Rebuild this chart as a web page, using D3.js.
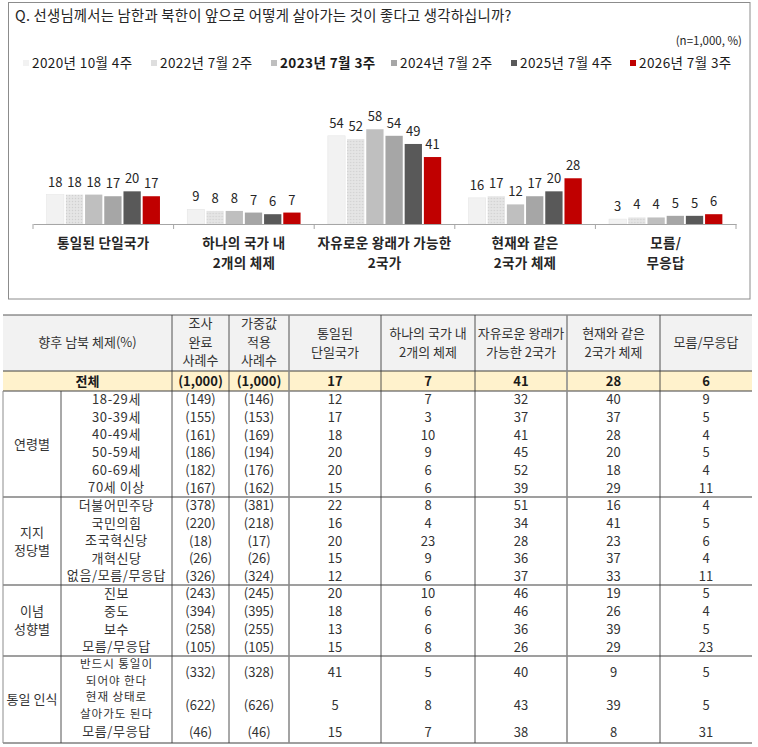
<!DOCTYPE html>
<html><head><meta charset="utf-8">
<script src="https://cdn.jsdelivr.net/npm/d3@7"></script>
<style>
html,body{margin:0;padding:0;background:#fff;}
svg text{font-family:"Noto Sans CJK KR","Noto Sans",sans-serif;}
</style></head>
<body>
<svg id="c" width="758" height="747"></svg>
<script>
// ---------- chart data ----------
const categories = [["통일된 단일국가"],["하나의 국가 내","2개의 체제"],["자유로운 왕래가 가능한","2국가"],["현재와 같은","2국가 체제"],["모름/","무응답"]];
const seriesNames = ["2020년 10월 4주","2022년 7월 2주","2023년 7월 3주","2024년 7월 2주","2025년 7월 4주","2026년 7월 3주"];
const v2020 = [18, 9, 54, 16, 3];
const v2022 = [18, 8, 52, 17, 4];
const v2023 = [18, 8, 58, 12, 4];
const v2024 = [17, 7, 54, 17, 5];
const v2025 = [20, 6, 49, 20, 5];
const v2026 = [17, 7, 41, 28, 6];
const seriesValues = [v2020, v2022, v2023, v2024, v2025, v2026];
const seriesColors = ["#f2f2f2","url(#dots)","#bfbfbf","#a6a6a6","#595959","#c00000"];
const legendColors = ["#f2f2f2","#dedede","#bfbfbf","#a6a6a6","#595959","#c00000"];

// ---------- table data ----------
const headerCols = [["조사","완료","사례수"],["가중값","적용","사례수"],["통일된","단일국가"],["하나의 국가 내","2개의 체제"],["자유로운 왕래가","가능한 2국가"],["현재와 같은","2국가 체제"],["모름/무응답"]];
const totalRow = ["(1,000)","(1,000)","17","7","41","28","6"];
const groupNames = [["연령별"],["지지","정당별"],["이념","성향별"],["통일 인식"]];
const groupSizes = [6,5,4,3];
const rowLabels = [["18-29세"],["30-39세"],["40-49세"],["50-59세"],["60-69세"],["70세  이상"],["더불어민주당"],["국민의힘"],["조국혁신당"],["개혁신당"],["없음/모름/무응답"],["진보"],["중도"],["보수"],["모름/무응답"],["반드시 통일이","되어야 한다"],["현재 상태로","살아가도 된다"],["모름/무응답"]];
const sampleN   = [149,155,161,186,182,167,378,220,18,26,326,243,394,258,105,332,622,46];
const weightedN = [146,153,169,194,176,162,381,218,17,26,324,245,395,255,105,328,626,46];
const colUnified = [12,17,18,20,20,15,22,16,20,15,12,20,18,13,15,41,5,15];
const colOneNation = [7,3,10,9,6,6,8,4,23,9,6,10,6,6,8,5,8,7];
const colFreeTwo = [32,37,41,45,52,39,51,34,28,36,37,46,46,36,26,40,43,38];
const colCurrentTwo = [40,37,28,20,18,29,16,41,23,37,33,19,26,39,29,9,39,8];
const colDontKnow = [9,5,4,5,4,11,4,5,6,4,11,5,4,5,23,5,5,31];

const svg = d3.select("#c");
const defs = svg.append("defs");
const pat = defs.append("pattern").attr("id","dots").attr("width",3).attr("height",3).attr("patternUnits","userSpaceOnUse");
pat.append("rect").attr("width",3).attr("height",3).attr("fill","#e2e2e2");
pat.append("rect").attr("x",0).attr("y",0).attr("width",1).attr("height",1).attr("fill","#d0d0d0");
pat.append("rect").attr("x",1.5).attr("y",1.5).attr("width",1).attr("height",1).attr("fill","#f0f0f0");

// chart frame
svg.append("rect").attr("x",8.5).attr("y",2.5).attr("width",741.5).attr("height",296.5)
  .attr("fill","none").attr("stroke","#8c8c8c").attr("stroke-width",1);

svg.append("text").attr("x",15).attr("y",21).attr("font-size",14.4).attr("letter-spacing",0.2).attr("fill","#262626")
  .text("Q. 선생님께서는 남한과 북한이 앞으로 어떻게 살아가는 것이 좋다고 생각하십니까?");
svg.append("text").attr("x",742).attr("y",45).attr("text-anchor","end").attr("font-size",11.5).attr("fill","#262626")
  .text("(n=1,000,  %)");

// legend
const legX = [23,151,271,391,511,630];
const lg = svg.append("g").selectAll("g").data(seriesNames).join("g")
  .attr("transform",(d,i)=>`translate(${legX[i]},0)`);
lg.append("rect").attr("x",0).attr("y",60).attr("width",6).attr("height",6).attr("fill",(d,i)=>legendColors[i]);
lg.append("text").attr("x",9).attr("y",68).attr("font-size",13.5).attr("letter-spacing",0.4).attr("fill","#1a1a1a")
  .attr("font-weight",(d,i)=>i===2?"bold":"normal").text(d=>d);

// scales
const x0 = d3.scaleBand().domain(d3.range(categories.length)).range([33,736]).padding(0);
const x1 = d3.scaleBand().domain(d3.range(seriesNames.length)).range([0,x0.bandwidth()]).paddingInner(0.1).paddingOuter(0.71);
const y = d3.scaleLinear().domain([0,60]).range([224,126]);

const gBars = svg.append("g");
const cg = gBars.selectAll("g").data(categories).join("g").attr("transform",(d,i)=>`translate(${x0(i)},0)`);
cg.each(function(c,ci){
  const g = d3.select(this);
  const vals = seriesValues.map(s=>s[ci]);
  g.selectAll("rect").data(vals).join("rect")
    .attr("x",(d,i)=>x1(i)).attr("width",x1.bandwidth())
    .attr("y",d=>y(d)).attr("height",d=>y(0)-y(d))
    .attr("fill",(d,i)=>seriesColors[i])
    .attr("stroke",(d,i)=>i===0?"#e6e6e6":"none").attr("stroke-width",0.6);
  g.selectAll("text.v").data(vals).join("text").attr("class","v")
    .attr("x",(d,i)=>x1(i)+x1.bandwidth()/2).attr("y",d=>y(d)-8)
    .attr("text-anchor","middle").attr("font-size",13).attr("fill","#262626").text(d=>d);
});

// axis
const axis = d3.axisBottom(x0).tickSize(0).tickFormat("");
const ag = svg.append("g").attr("transform","translate(0,224)").call(axis);
ag.select(".domain").attr("stroke","#a6a6a6").attr("stroke-width",1.2);
const bounds = d3.range(categories.length+1).map(i=> i<categories.length? x0(i) : x0.range()[1]);
svg.append("g").selectAll("line").data(bounds).join("line")
  .attr("x1",d=>d).attr("x2",d=>d).attr("y1",224).attr("y2",229).attr("stroke","#a6a6a6");
const cl = svg.append("g").selectAll("text").data(categories).join("text")
  .attr("x",(d,i)=>x0(i)+x0.bandwidth()/2).attr("y",248).attr("text-anchor","middle")
  .attr("font-size",13.5).attr("letter-spacing",0.3).attr("font-weight","bold").attr("fill","#262626");
cl.selectAll("tspan").data(d=>d).join("tspan").attr("x",function(){return this.parentNode.getAttribute("x");})
  .attr("dy",(d,i)=>i===0?0:20).text(d=>d);

// ---------- table ----------
const colX = [3,61,172,229,289,381,475,567,660,752];
const tTop = 315, hBot = 371, totBot = 391;
const groupBounds = [391,497,585,656,743];
const rowBounds = [];
for(let g=0; g<3; g++){
  const h = (groupBounds[g+1]-groupBounds[g])/groupSizes[g];
  for(let r=0;r<groupSizes[g];r++) rowBounds.push([groupBounds[g]+r*h, groupBounds[g]+(r+1)*h]);
}
rowBounds.push([656,689],[689,721],[721,743]);

const tg = svg.append("g");
tg.append("rect").attr("x",colX[0]).attr("y",tTop).attr("width",colX[9]-colX[0]).attr("height",hBot-tTop).attr("fill","#f2f2f2");
tg.append("rect").attr("x",colX[0]).attr("y",hBot).attr("width",colX[9]-colX[0]).attr("height",totBot-hBot).attr("fill","#fff2cc");

// header texts
const hx = (i)=> (colX[i]+colX[i+1])/2;
tg.append("text").attr("x",(colX[0]+colX[2])/2).attr("y",347).attr("text-anchor","middle")
  .attr("font-size",13).attr("fill","#333").text("향후 남북 체제(%)");
const ht = tg.append("g").selectAll("text").data(headerCols).join("text")
  .attr("x",(d,i)=>hx(i+2)).attr("text-anchor","middle").attr("font-size",13).attr("fill","#333")
  .attr("y",d=> d.length===3? 328 : d.length===2 ? 338 : 347);
ht.selectAll("tspan").data(d=>d).join("tspan").attr("x",function(){return this.parentNode.getAttribute("x");})
  .attr("dy",(d,i)=>i===0?0:18.5).text(d=>d);

// total row
tg.append("text").attr("x",(colX[0]+colX[2])/2).attr("y",386).attr("text-anchor","middle")
  .attr("font-size",13).attr("font-weight","bold").attr("fill","#1a1a1a").text("전체");
tg.append("g").selectAll("text").data(totalRow).join("text")
  .attr("x",(d,i)=>hx(i+2)).attr("y",386).attr("text-anchor","middle")
  .attr("font-size",13).attr("font-weight","bold").attr("fill","#1a1a1a").text(d=>d);

// group names
groupNames.forEach((gn,gi)=>{
  const cy = (groupBounds[gi]+groupBounds[gi+1])/2;
  const t = tg.append("text").attr("x",hx(0)).attr("text-anchor","middle").attr("font-size",13).attr("fill","#333")
    .attr("y", cy + 4.5 - (gn.length-1)*9);
  t.selectAll("tspan").data(gn).join("tspan").attr("x",hx(0)).attr("dy",(d,i)=>i===0?0:18).text(d=>d);
});

// data rows
const dataCols = [sampleN.map(v=>`(${v})`), weightedN.map(v=>`(${v})`), colUnified, colOneNation, colFreeTwo, colCurrentTwo, colDontKnow];
rowLabels.forEach((lab,ri)=>{
  const [a,b] = rowBounds[ri];
  const cy = (a+b)/2;
  const two = lab.length>1;
  const fs = two ? 11.6 : 13;
  const gap = 16.8;
  lab.forEach((line,li)=>{
    tg.append("text").attr("x",hx(1)).attr("text-anchor","middle").attr("font-size",fs).attr("fill","#333")
      .attr("letter-spacing",two?0.9:0.6)
      .attr("y", cy + 4.2 - (lab.length-1)*gap/2 + li*gap).text(line);
  });
  dataCols.forEach((col,ci)=>{
    tg.append("text").attr("x",hx(ci+2)).attr("y",cy+4.5).attr("text-anchor","middle")
      .attr("font-size",13).attr("fill","#333").text(col[ri]);
  });
});

// lines
const L = tg.append("g");
L.append("line").attr("x1",colX[0]).attr("x2",colX[9]).attr("y1",tTop).attr("y2",tTop).attr("stroke","#595959").attr("stroke-width",1);
L.append("line").attr("x1",colX[0]).attr("x2",colX[9]).attr("y1",hBot).attr("y2",hBot).attr("stroke","#404040").attr("stroke-width",1);
L.append("line").attr("x1",colX[0]).attr("x2",colX[9]).attr("y1",totBot).attr("y2",totBot).attr("stroke","#404040").attr("stroke-width",1);
groupBounds.slice(1).forEach((gy,i)=>{
  L.append("line").attr("x1",colX[0]).attr("x2",colX[9]).attr("y1",gy).attr("y2",gy)
    .attr("stroke", i===groupBounds.length-2 ? "#404040" : "#7f7f7f").attr("stroke-width", i===groupBounds.length-2?1:1.5);
});
colX.slice(2,9).forEach((cx,i)=>{
  L.append("line").attr("x1",cx).attr("x2",cx).attr("y1",tTop).attr("y2",743)
    .attr("stroke", (i===2||i===5)?"#8c8c8c":"#404040").attr("stroke-width",(i===2||i===5)?1.6:0.9);
});
L.append("line").attr("x1",colX[1]).attr("x2",colX[1]).attr("y1",totBot).attr("y2",743).attr("stroke","#404040").attr("stroke-width",0.9);
L.append("line").attr("x1",colX[0]).attr("x2",colX[0]).attr("y1",totBot).attr("y2",743).attr("stroke","#8c8c8c").attr("stroke-width",1);
</script>
</body></html>
